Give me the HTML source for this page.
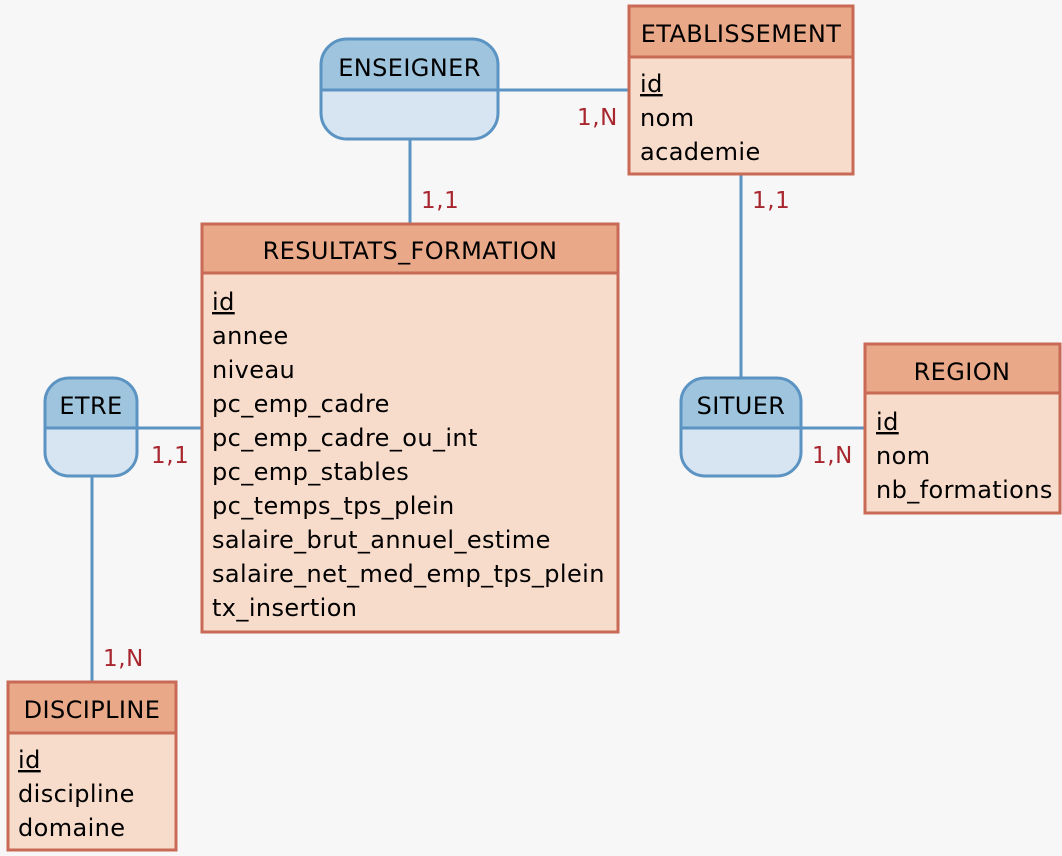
<!DOCTYPE html>
<html><head><meta charset="utf-8"><style>
body{margin:0;background:#f7f7f7}
svg{display:block}
text{font-family:"DejaVu Sans",Verdana,sans-serif;font-size:24px;fill:#000;letter-spacing:0.4px}
.c{fill:#a8262e;font-size:23px;letter-spacing:0.6px}
</style></head><body>
<svg width="1062" height="856" viewBox="0 0 1062 856">
<rect width="1062" height="856" fill="#f7f7f7"/>
<g stroke="#5b93c3" stroke-width="3" fill="none">
<line x1="498" y1="90" x2="629" y2="90"/>
<line x1="410" y1="139" x2="410" y2="224"/>
<line x1="741" y1="174" x2="741" y2="378"/>
<line x1="137" y1="428" x2="202" y2="428"/>
<line x1="92" y1="476" x2="92" y2="682"/>
<line x1="801" y1="428" x2="865" y2="428"/>
</g>
<text class="c" x="577" y="125">1,N</text>
<text class="c" x="421" y="208">1,1</text>
<text class="c" x="752" y="208">1,1</text>
<text class="c" x="151" y="463">1,1</text>
<text class="c" x="812" y="463">1,N</text>
<text class="c" x="103" y="666">1,N</text>
<defs>
<clipPath id="a1"><rect x="321" y="39" width="177" height="100" rx="26"/></clipPath>
<clipPath id="a2"><rect x="45" y="378" width="92" height="98" rx="24"/></clipPath>
<clipPath id="a3"><rect x="681" y="378" width="120" height="98" rx="24"/></clipPath>
</defs>
<g clip-path="url(#a1)"><rect x="321" y="39" width="177" height="100" fill="#d6e5f1"/><rect x="321" y="39" width="177" height="51" fill="#9fc5de"/></g>
<rect x="321" y="39" width="177" height="100" rx="26" fill="none" stroke="#5b93c3" stroke-width="3"/>
<line x1="321" y1="90" x2="498" y2="90" stroke="#5b93c3" stroke-width="3"/>
<text x="409.5" y="76" text-anchor="middle">ENSEIGNER</text>

<g clip-path="url(#a2)"><rect x="45" y="378" width="92" height="98" fill="#d6e5f1"/><rect x="45" y="378" width="92" height="50" fill="#9fc5de"/></g>
<rect x="45" y="378" width="92" height="98" rx="24" fill="none" stroke="#5b93c3" stroke-width="3"/>
<line x1="45" y1="428" x2="137" y2="428" stroke="#5b93c3" stroke-width="3"/>
<text x="91" y="414" text-anchor="middle">ETRE</text>

<g clip-path="url(#a3)"><rect x="681" y="378" width="120" height="98" fill="#d6e5f1"/><rect x="681" y="378" width="120" height="50" fill="#9fc5de"/></g>
<rect x="681" y="378" width="120" height="98" rx="24" fill="none" stroke="#5b93c3" stroke-width="3"/>
<line x1="681" y1="428" x2="801" y2="428" stroke="#5b93c3" stroke-width="3"/>
<text x="741" y="414" text-anchor="middle">SITUER</text>

<g stroke="#c96a56" stroke-width="3">
<rect x="629" y="6" width="224" height="168" fill="#f8dccb"/><rect x="629" y="6" width="224" height="51" fill="#e9a888"/>
<rect x="202" y="224" width="416" height="408" fill="#f8dccb"/><rect x="202" y="224" width="416" height="49" fill="#e9a888"/>
<rect x="865" y="344" width="195" height="169" fill="#f8dccb"/><rect x="865" y="344" width="195" height="49" fill="#e9a888"/>
<rect x="8" y="682" width="168" height="168" fill="#f8dccb"/><rect x="8" y="682" width="168" height="51" fill="#e9a888"/>
</g>
<text x="741" y="42" text-anchor="middle">ETABLISSEMENT</text>
<text x="640" y="92" text-decoration="underline">id</text>
<text x="640" y="126">nom</text>
<text x="640" y="160">academie</text>

<text x="410" y="259" text-anchor="middle">RESULTATS_FORMATION</text>
<text x="212" y="310" text-decoration="underline">id</text>
<text x="212" y="344">annee</text>
<text x="212" y="378">niveau</text>
<text x="212" y="412">pc_emp_cadre</text>
<text x="212" y="446">pc_emp_cadre_ou_int</text>
<text x="212" y="480">pc_emp_stables</text>
<text x="212" y="514">pc_temps_tps_plein</text>
<text x="212" y="548">salaire_brut_annuel_estime</text>
<text x="212" y="582">salaire_net_med_emp_tps_plein</text>
<text x="212" y="616">tx_insertion</text>

<text x="962" y="380" text-anchor="middle">REGION</text>
<text x="876" y="430" text-decoration="underline">id</text>
<text x="876" y="464">nom</text>
<text x="876" y="498">nb_formations</text>

<text x="92" y="718" text-anchor="middle">DISCIPLINE</text>
<text x="18" y="768" text-decoration="underline">id</text>
<text x="18" y="802">discipline</text>
<text x="18" y="836">domaine</text>
</svg>
</body></html>
